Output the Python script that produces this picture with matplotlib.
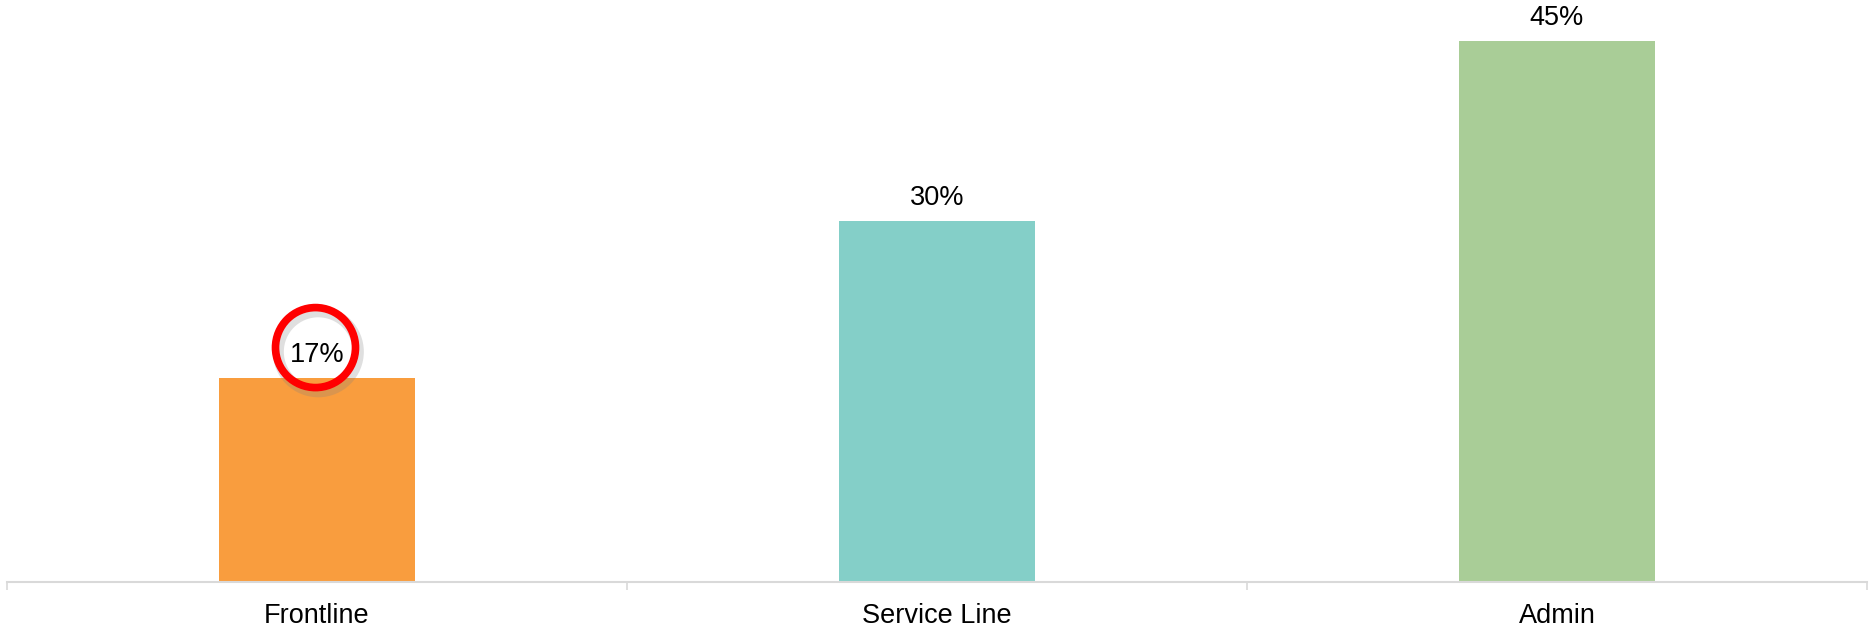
import matplotlib.pyplot as plt
import matplotlib.transforms as mtransforms
import matplotlib.patheffects as pe
from matplotlib.patches import Circle

# datos
categorias = ["Frontline", "Service Line", "Admin"]
valores = [17, 30, 45]
colores = ["#F99D3E", "#84CFC8", "#A9CD97"]

plt.rcParams['font.family'] = ['Liberation Sans', 'DejaVu Sans']

fig = plt.figure(figsize=(18.7, 6.29), dpi=100)
ax = fig.add_axes([7/1870, 47/629, 1860/1870, 582/629])

x = list(range(len(categorias)))
ax.bar(x, valores, width=0.315, color=colores)

for i, v in zip(x, valores):
    ax.annotate(f"{v}%", (i, v), xytext=(0, 16.5), textcoords="offset points",
                ha="center", va="center", fontsize=19.5, color="black",
                annotation_clip=False)

# circulo rojo alrededor del valor de Frontline
trans = fig.dpi_scale_trans + mtransforms.ScaledTranslation(x[0], valores[0], ax.transData)
circ = Circle((-0.015, 0.30), 0.40, transform=trans, fill=False, edgecolor="#FF0000",
              linewidth=5.5, clip_on=False, zorder=5)
circ.set_path_effects([pe.SimpleLineShadow(offset=(2, -3), shadow_color="gray", alpha=0.25, linewidth=8),
                       pe.Normal()])
ax.add_patch(circ)

ax.set_xlim(-0.5, len(categorias) - 0.5)
ax.set_ylim(0, 48.4)

for s in ["top", "right", "left"]:
    ax.spines[s].set_visible(False)
ax.spines["bottom"].set_color("#D9D9D9")
ax.spines["bottom"].set_linewidth(1.5)

ax.set_yticks([])
ax.set_xticks(x)
ax.set_xticklabels(categorias, fontsize=19.5)
ax.tick_params(axis="x", which="major", length=0, pad=15)
ax.set_xticks([i - 0.5 for i in range(len(categorias) + 1)], minor=True)
ax.tick_params(axis="x", which="minor", length=6, width=1.2, color="#D9D9D9", direction="out")

fig.savefig("out.png", dpi=100)
